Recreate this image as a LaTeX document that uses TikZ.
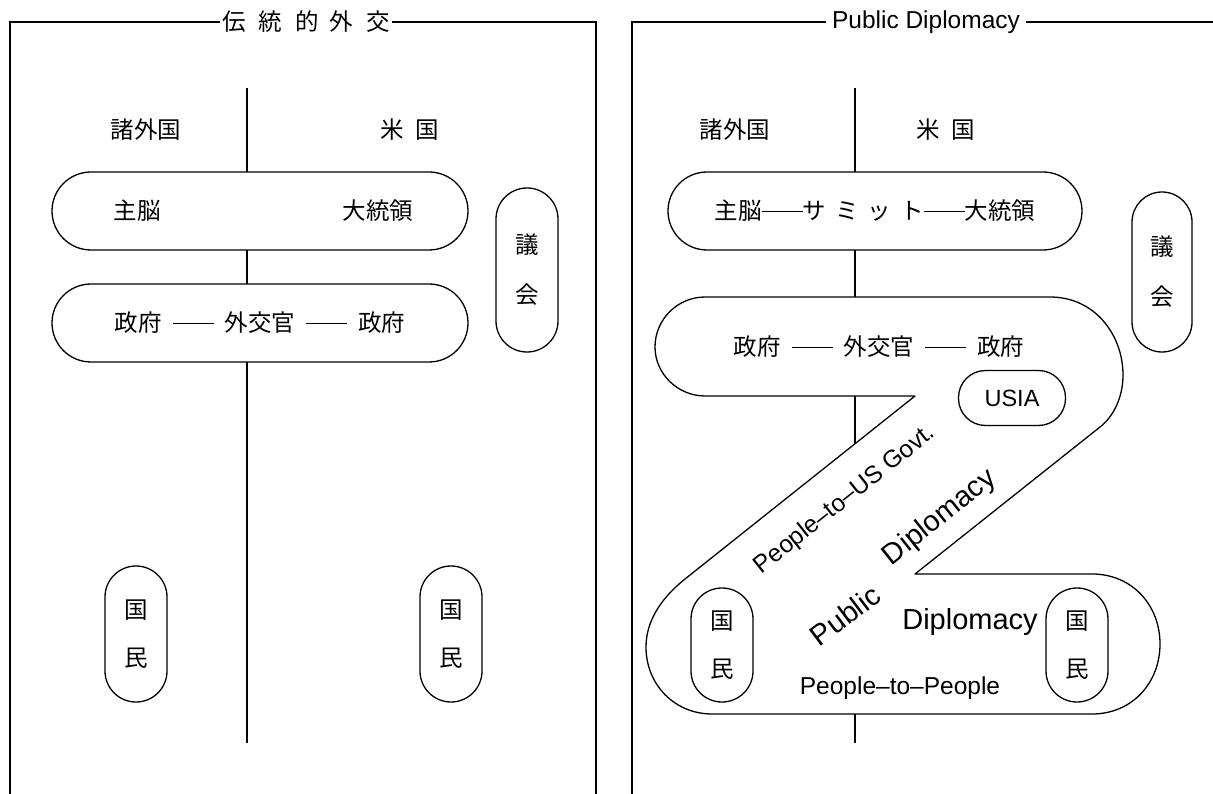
\documentclass[tikz,border=0pt]{standalone}
\usepackage{fontspec}
\setmainfont{Liberation Sans}
\newfontfamily\jp{Noto Sans CJK JP}
\newcommand{\dl}{\rule[0.34em]{41pt}{1.3pt}}
\begin{document}
\begin{tikzpicture}[x=1pt,y=-1pt,
  jt/.style={font=\jp\fontsize{23.5}{28}\selectfont, inner sep=0pt},
  lt/.style={font=\fontsize{24.5}{28}\selectfont, inner sep=0pt},
  bigt/.style={font=\fontsize{29}{32}\selectfont, inner sep=0pt},
  frame/.style={line width=1.3pt},
  axis/.style={line width=2.8pt},
  hcap/.style={draw, fill=white, line width=1.3pt, rounded corners=39pt, minimum width=416pt, minimum height=78pt, inner sep=0pt},
  vcap/.style={draw, fill=white, line width=1.3pt, rounded corners=31pt, minimum width=62pt, inner sep=0pt, align=center},
]
\useasboundingbox[fill=white] (0,0) rectangle (1213,794);

% ---------- left panel ----------
\coordinate (lfbl) at (10,800);
\coordinate (lftl) at (10,22);
\coordinate (lftr) at (596,22);
\coordinate (lfbr) at (596,800);
\draw[frame] (lfbl) -- (lftl) -- (lftr) -- (lfbr);
\node[jt, fill=white, inner xsep=2pt] (ltitle) at (306,22) {伝\hspace{13pt}統\hspace{13pt}的\hspace{11pt}外\hspace{13pt}交};

\coordinate (laxtop) at (247,88);
\coordinate (laxbot) at (247,743);
\draw[axis] (laxtop) -- (laxbot);

\node[jt] (lforeign) at (146,130) {諸外国};
\node[jt] (lus) at (410,130) {米\hspace{12pt}国};

\node[hcap] (lcap1) at (260,211) {};
\node[jt] (lleader) at (137,211) {主脳};
\node[jt] (lpres) at (378,211) {大統領};

\node[hcap] (lcap2) at (260,323) {\jp\fontsize{23.5}{28}\selectfont 政府\hspace{11pt}\dl\hspace{11pt}外交官\hspace{11pt}\dl\hspace{11pt}政府};

\node[vcap, minimum height=164pt, font=\jp\fontsize{23.5}{50}\selectfont] (lcong) at (527,270) {議\\会};

\node[vcap, minimum height=136pt, font=\jp\fontsize{23.5}{48}\selectfont] (lpeopleA) at (136,634) {国\\民};
\node[vcap, minimum height=136pt, font=\jp\fontsize{23.5}{48}\selectfont] (lpeopleB) at (451,634) {国\\民};

% ---------- right panel ----------
\coordinate (rfbl) at (632,800);
\coordinate (rftl) at (632,22);
\coordinate (rftr) at (1220,22);
\draw[frame] (rfbl) -- (rftl) -- (rftr);
\node[font=\fontsize{24.5}{28}\selectfont, inner ysep=0pt, fill=white, inner xsep=6pt] (rtitle) at (926,22) {Public Diplomacy};

\coordinate (raxtop) at (855,88);
\coordinate (raxbot) at (855,743);
\draw[axis] (raxtop) -- (raxbot);

\node[jt] (rforeign) at (735,130) {諸外国};
\node[jt] (rus) at (946,130) {米\hspace{12pt}国};

\node[hcap, minimum width=414pt] (rcap1) at (875,211) {\jp\fontsize{23.5}{28}\selectfont 主脳\dl サ\hspace{9pt}ミ\hspace{9pt}ッ\hspace{9pt}ト\dl 大統領};

\node[vcap, minimum width=60pt, rounded corners=30pt, minimum height=160pt, font=\jp\fontsize{23.5}{50}\selectfont] (rcong) at (1162,272) {議\\会};

% S-shaped public diplomacy band
\draw[frame, fill=white, line join=round]
  (705,297) -- (1050,297)
  .. controls (1095,297) and (1123,335) .. (1123,375)
  .. controls (1123,398) and (1113,417) .. (1100,427)
  -- (915,574) -- (1092,574)
  .. controls (1132,574) and (1160,605) .. (1160,644)
  .. controls (1160,683) and (1132,714) .. (1092,714)
  -- (712,714)
  .. controls (675,714) and (646,685) .. (646,647)
  .. controls (646,622) and (660,599) .. (685,579)
  -- (915,396) -- (705,396)
  .. controls (678,396) and (655,374) .. (655,347)
  .. controls (655,319) and (678,297) .. (705,297) -- cycle;
% axis parts visible outside the band
\coordinate (raxmidtop) at (855,396);
\coordinate (raxmidbot) at (855,443);
\draw[axis] (raxmidtop) -- (raxmidbot);
\coordinate (raxlowtop) at (855,714);
\draw[axis] (raxlowtop) -- (raxbot);

\node[jt] (rgov) at (879,347) {政府\hspace{11pt}\dl\hspace{11pt}外交官\hspace{11pt}\dl\hspace{11pt}政府};

\node[draw, fill=white, line width=1.3pt, rounded corners=27pt, minimum width=107pt, minimum height=55pt, inner sep=0pt, font=\fontsize{23.5}{28}\selectfont] (usia) at (1012,398) {USIA};

\node[lt, rotate=38.5] (p2gov) at (845,500) {People–to–US Govt.};
\node[bigt, rotate=38.5] (diag) at (940,518) {Diplomacy};
\node[bigt, rotate=37] (public) at (845,615) {Public};
\node[bigt] (diph) at (970,622) {Diplomacy};
\node[font=\fontsize{24.5}{28}\selectfont, inner sep=0pt] (p2p) at (900,688) {People–to–People};

\node[vcap, minimum height=114pt, font=\jp\fontsize{23.5}{48}\selectfont] (rpeopleA) at (722,645) {国\\民};
\node[vcap, minimum height=114pt, font=\jp\fontsize{23.5}{48}\selectfont] (rpeopleB) at (1077,645) {国\\民};
\end{tikzpicture}
\end{document}
